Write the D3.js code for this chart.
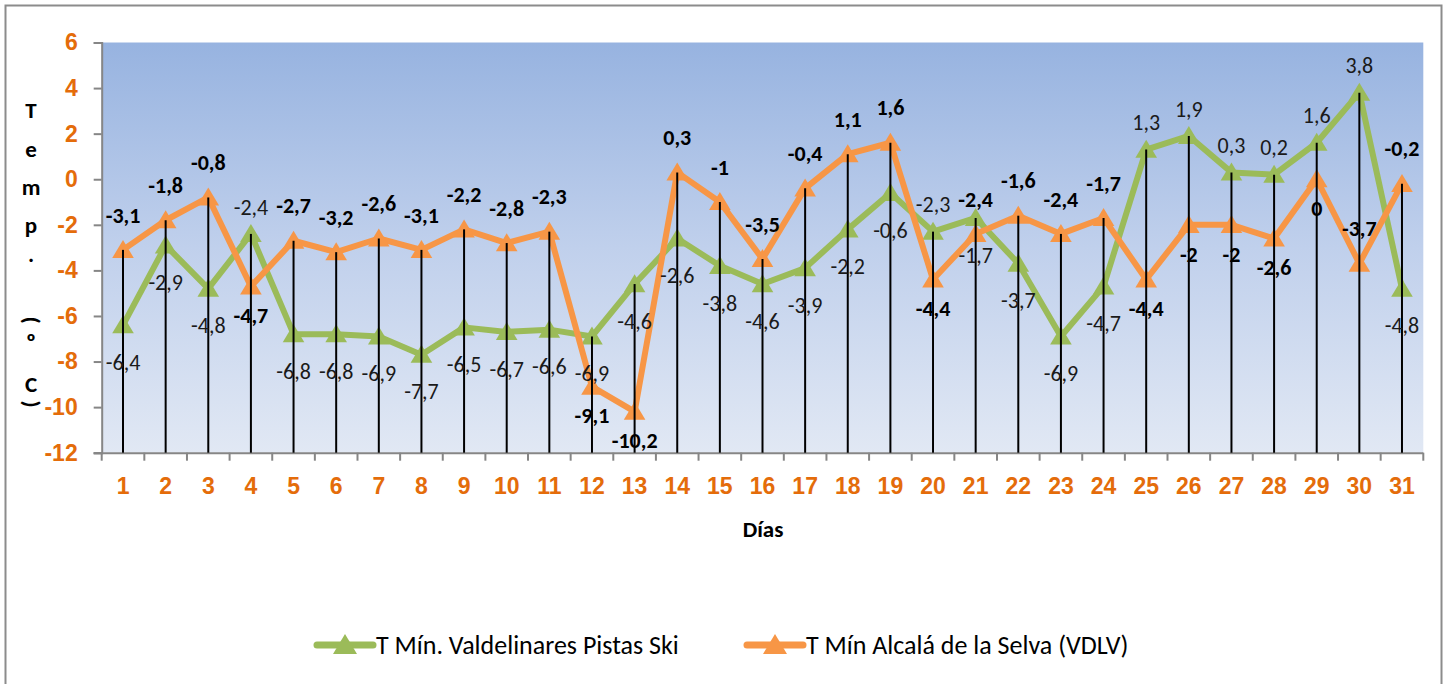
<!DOCTYPE html>
<html>
<head>
<meta charset="utf-8">
<script src="https://cdn.jsdelivr.net/npm/d3@7"></script>
<style>
  html, body { margin: 0; padding: 0; background: #fff; }
  svg { display: block; font-family: Carlito, Lato, "Open Sans", sans-serif; }
</style>
</head>
<body>
<svg id="chart" width="1445" height="684"></svg>
<script>
const days = d3.range(1, 32);
const valdelinares = [-6.4, -2.9, -4.8, -2.4, -6.8, -6.8, -6.9, -7.7, -6.5, -6.7, -6.6, -6.9, -4.6, -2.6, -3.8, -4.6,
  -3.9, -2.2, -0.6, -2.3, -1.7, -3.7, -6.9, -4.7, 1.3, 1.9, 0.3, 0.2, 1.6, 3.8, -4.8];
const alcala = [-3.1, -1.8, -0.8, -4.7, -2.7, -3.2, -2.6, -3.1, -2.2, -2.8, -2.3, -9.1, -10.2, 0.3, -1, -3.5,
  -0.4, 1.1, 1.6, -4.4, -2.4, -1.6, -2.4, -1.7, -4.4, -2, -2, -2.6, 0, -3.7, -0.2];
const yTicks = [6, 4, 2, 0, -2, -4, -6, -8, -10, -12];
const seriesNames = ["T Mín. Valdelinares Pistas Ski", "T Mín Alcalá de la Selva (VDLV)"];
const yTitle = ["T", "e", "m", "p", ".", "(", "º", "C", ")"];
const xTitle = "Días";

const GREEN = "#9bbb59";
const ORANGE = "#f79646";
const TICK_ORANGE = "#e46c0a";

const svg = d3.select("#chart");
const plot = { left: 101.7, right: 1423.3, top: 42.5, bottom: 452.7 };

const x = d3.scaleBand().domain(days).range([plot.left, plot.right]);
const y = d3.scaleLinear().domain([-12, 6]).range([plot.bottom, plot.top]);
const cx = (d) => x(d) + x.bandwidth() / 2;
const fmt = (v) => String(v).replace(".", ",");

// outer frame
svg.append("rect")
  .attr("x", 5.5).attr("y", 5.5).attr("width", 1436).attr("height", 690)
  .attr("fill", "#fff").attr("stroke", "#8c8c8c").attr("stroke-width", 2);

// plot background gradient
const grad = svg.append("defs").append("linearGradient")
  .attr("id", "bg").attr("x1", 0).attr("y1", 0).attr("x2", 0).attr("y2", 1);
grad.append("stop").attr("offset", "0%").attr("stop-color", "#97b3e0");
grad.append("stop").attr("offset", "50%").attr("stop-color", "#c0d0ec");
grad.append("stop").attr("offset", "100%").attr("stop-color", "#e1e8f4");

svg.append("rect")
  .attr("x", plot.left).attr("y", plot.top)
  .attr("width", plot.right - plot.left).attr("height", plot.bottom - plot.top)
  .attr("fill", "url(#bg)");

// axes
const yAxis = svg.append("g")
  .attr("transform", `translate(${plot.left},0)`)
  .call(d3.axisLeft(y).tickValues(yTicks).tickSize(8).tickPadding(16).tickFormat((d) => String(d)));
const xAxis = svg.append("g")
  .attr("transform", `translate(0,${plot.bottom})`)
  .call(d3.axisBottom(x).tickSize(0).tickPadding(25));

[yAxis, xAxis].forEach((g) => {
  g.select(".domain").attr("stroke", "#868686").attr("stroke-width", 2);
  g.selectAll(".tick line").attr("stroke", "#868686").attr("stroke-width", 2);
  g.selectAll("text")
    .attr("fill", TICK_ORANGE).attr("font-weight", "bold").attr("font-size", 23);
});
xAxis.select(".domain").attr("d", `M${plot.left - 8},0.5H${plot.right}`);

// category boundary ticks on x axis
svg.append("g").selectAll("line")
  .data(days.concat([32]))
  .join("line")
  .attr("x1", (d, i) => plot.left + i * x.bandwidth())
  .attr("x2", (d, i) => plot.left + i * x.bandwidth())
  .attr("y1", plot.bottom).attr("y2", plot.bottom + 8)
  .attr("stroke", "#868686").attr("stroke-width", 2);

// axis titles
svg.append("text")
  .attr("x", 763).attr("y", 537)
  .attr("text-anchor", "middle").attr("font-weight", "bold").attr("font-size", 23)
  .attr("fill", "#000").text(xTitle);

const titleY = [118, 157, 195, 233, 262, 320, 350, 392, 404];
svg.append("g").selectAll("text")
  .data(yTitle)
  .join("text")
  .attr("text-anchor", "middle").attr("font-weight", "bold").attr("font-size", 23)
  .attr("fill", "#000")
  .attr("transform", (d, i) => (d === "(" || d === ")")
    ? `translate(31,${titleY[i]}) rotate(90)`
    : `translate(31,${titleY[i]})`)
  .attr("dy", (d) => (d === "(" || d === ")") ? "0.32em" : 0)
  .text((d) => d);

// series lines
const series = [
  { name: seriesNames[0], values: valdelinares, color: GREEN },
  { name: seriesNames[1], values: alcala, color: ORANGE },
];

const line = d3.line().x((d) => cx(d.day)).y((d) => y(d.v));
const triangle = (s) => `M0,${-s * 0.55}L${s * 0.6},${s * 0.45}L${-s * 0.6},${s * 0.45}Z`;

series.forEach((s) => {
  const pts = days.map((d, i) => ({ day: d, v: s.values[i] }));
  svg.append("path")
    .datum(pts)
    .attr("d", line)
    .attr("fill", "none").attr("stroke", s.color).attr("stroke-width", 6)
    .attr("stroke-linejoin", "round");
  svg.append("g").selectAll("path")
    .data(pts)
    .join("path")
    .attr("transform", (d) => `translate(${cx(d.day)},${y(d.v)})`)
    .attr("d", triangle(18))
    .attr("fill", s.color);
});

// drop lines from the highest point to the axis
svg.append("g").selectAll("line")
  .data(days)
  .join("line")
  .attr("x1", (d) => cx(d)).attr("x2", (d) => cx(d))
  .attr("y1", (d, i) => y(Math.max(valdelinares[i], alcala[i])))
  .attr("y2", plot.bottom)
  .attr("stroke", "#000").attr("stroke-width", 2);

// data labels: higher series above, lower series below, with a few manual exceptions
const bothBelow = new Set([12, 13]);
const orangeAbove = new Set([21, 30]);
const labelData = [];
days.forEach((d, i) => {
  const g = valdelinares[i];
  const o = alcala[i];
  let gAbove = g > o;
  let oAbove = o >= g;
  if (bothBelow.has(d)) { gAbove = false; oAbove = false; }
  if (orangeAbove.has(d)) { oAbove = true; gAbove = d === 30; }
  labelData.push({ day: d, v: g, above: gAbove, bold: false });
  labelData.push({ day: d, v: o, above: oAbove, bold: true });
});

svg.append("g").selectAll("text")
  .data(labelData)
  .join("text")
  .attr("x", (d) => cx(d.day))
  .attr("y", (d) => y(d.v) + (d.above ? (d.bold ? -35 : -27) : (d.bold ? 29 : 37)))
  .attr("dy", "0.35em")
  .attr("text-anchor", "middle")
  .attr("font-size", 22)
  .attr("font-weight", (d) => d.bold ? "bold" : "normal")
  .attr("fill", (d) => d.bold ? "#000" : "#1a1a1a")
  .text((d) => fmt(d.v));

// legend
const legendItems = [
  { name: seriesNames[0], color: GREEN, x: 317 },
  { name: seriesNames[1], color: ORANGE, x: 747 },
];
const legend = svg.append("g").selectAll("g")
  .data(legendItems)
  .join("g")
  .attr("transform", (d) => `translate(${d.x},645)`);
legend.append("line")
  .attr("x1", 0).attr("x2", 56).attr("y1", 0).attr("y2", 0)
  .attr("stroke", (d) => d.color).attr("stroke-width", 7)
  .attr("stroke-linecap", "round");
legend.append("path")
  .attr("transform", "translate(28,0)")
  .attr("d", triangle(20))
  .attr("fill", (d) => d.color);
legend.append("text")
  .attr("x", 59).attr("y", 0).attr("dy", "0.35em")
  .attr("font-size", 26).attr("fill", "#000")
  .text((d) => d.name);
</script>
</body>
</html>
